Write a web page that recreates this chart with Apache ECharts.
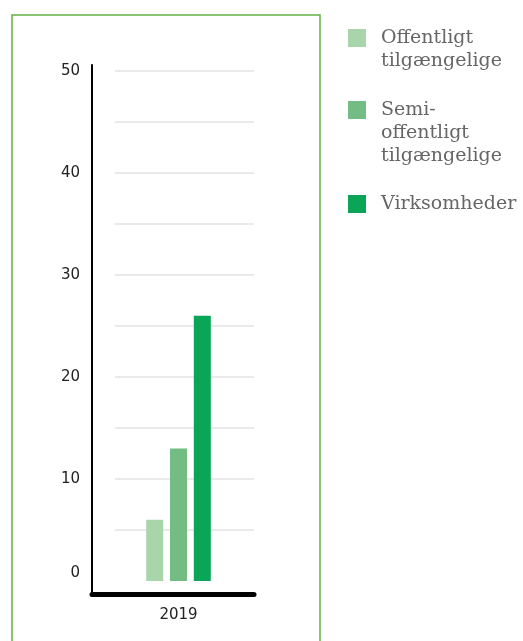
<!DOCTYPE html>
<html>

<head>
    <meta charset="utf-8">
    <script src="https://cdn.jsdelivr.net/npm/echarts@6/dist/echarts.min.js"></script>
    <style>
        html, body { margin: 0; padding: 0; background: #fff; }
    </style>
</head>

<body>
    <div id="main" style="width: 523px;height:641px;"></div>
    <script type="text/javascript">
        // data
        var years = ['2019'];
        var seriesNames = ['Offentligt tilgængelige', 'Semi-offentligt tilgængelige', 'Virksomheder'];
        var legendLabels = ['Offentligt\ntilgængelige', 'Semi-\noffentligt\ntilgængelige', 'Virksomheder'];
        var offentligt = [6];
        var semiOffentligt = [13];
        var virksomheder = [26];
        var yTickLabels = ['0', '10', '20', '30', '40', '50'];

        var colors = ['#a9d5aa', '#73bc84', '#0ba557'];
        var values = [offentligt, semiOffentligt, virksomheder];

        var myChart = echarts.init(document.getElementById('main'));

        var lineH = 23;
        var legendTops = [3.5, 52.5, 192.5];

        // en legend pr. serie; tomme linjer foran teksten får ikonet til at flugte med første linje
        var legends = seriesNames.map(function (name, i) {
            var lines = legendLabels[i].split('\n').length;
            var pad = new Array(lines).join('\n');
            return {
                orient: 'vertical',
                left: 348,
                top: legendTops[i],
                padding: 0,
                itemWidth: 18,
                itemHeight: 18,
                icon: 'rect',
                selectedMode: false,
                data: [name],
                formatter: function () { return pad + legendLabels[i]; },
                textStyle: {
                    fontFamily: 'DejaVu Serif',
                    fontSize: 19,
                    color: '#666',
                    lineHeight: lineH,
                    padding: [0, 0, 0, 10]
                }
            };
        });

        var option = {
            animation: false,
            color: colors,
            legend: legends,
            graphic: [{
                type: 'rect',
                shape: { x: 12, y: 15, width: 308, height: 700 },
                style: { fill: 'none', stroke: '#66b046', lineWidth: 1.5 },
                silent: true,
                z: -1
            }],
            grid: [
                // søjler
                { left: 103, right: 269, top: 71, bottom: 60 },
                // gitterlinjer og y-etiketter
                { left: 115, right: 269, top: 71, bottom: 60 },
                // akselinjer
                { left: 92, right: 269, top: 65, bottom: 47 }
            ],
            xAxis: [{
                gridIndex: 0,
                type: 'category',
                data: years,
                axisLine: { show: false },
                axisTick: { show: false },
                axisLabel: {
                    margin: 27,
                    fontFamily: 'DejaVu Sans',
                    fontSize: 15,
                    color: '#222'
                }
            }, {
                gridIndex: 1,
                type: 'category',
                data: years,
                show: false
            }, {
                gridIndex: 2,
                type: 'category',
                data: years,
                axisLine: { lineStyle: { color: '#000', width: 5 } },
                axisTick: { show: false },
                axisLabel: { show: false }
            }],
            yAxis: [{
                gridIndex: 0,
                type: 'value',
                min: 0,
                max: 50,
                show: false
            }, {
                gridIndex: 1,
                type: 'value',
                min: 0,
                max: 50,
                interval: 5,
                axisLine: { show: false },
                axisTick: { show: false },
                splitLine: { showMinLine: false, lineStyle: { color: '#e3e3e3', width: 1.5 } },
                axisLabel: {
                    margin: 35,
                    fontFamily: 'DejaVu Sans',
                    fontSize: 15,
                    color: '#222',
                    formatter: function (v) {
                        var s = String(v);
                        if (yTickLabels.indexOf(s) < 0) return '';
                        return v === 0 ? '{zero|' + s + '}' : s;
                    },
                    rich: {
                        zero: {
                            fontFamily: 'DejaVu Sans',
                            fontSize: 15,
                            color: '#222',
                            padding: [0, 0, 16, 0]
                        }
                    }
                }
            }, {
                gridIndex: 2,
                type: 'value',
                min: 0,
                max: 1,
                splitLine: { show: false },
                axisLine: { show: true, lineStyle: { color: '#000', width: 2 } },
                axisTick: { show: false },
                axisLabel: { show: false }
            }],
            series: seriesNames.map(function (name, i) {
                return {
                    name: name,
                    type: 'bar',
                    xAxisIndex: 0,
                    yAxisIndex: 0,
                    barWidth: 17,
                    barGap: '40%',
                    data: values[i]
                };
            })
        };
        myChart.setOption(option);
    </script>
</body>

</html>
